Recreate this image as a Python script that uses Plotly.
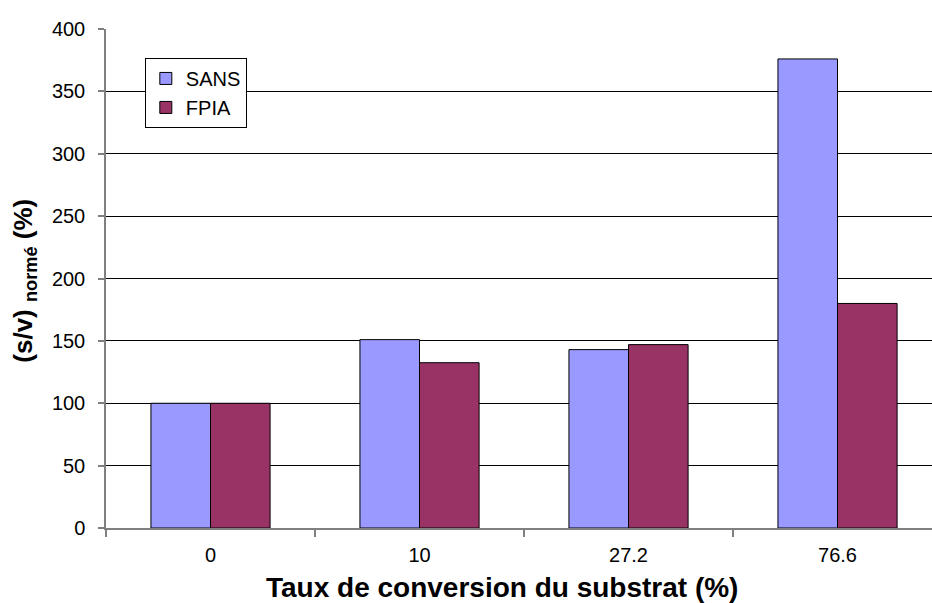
import plotly.graph_objects as go

categories = ["0", "10", "27.2", "76.6"]
sans = [100, 151, 143, 376]
fpia = [100, 132.5, 147, 180]
y_ticks = [0, 50, 100, 150, 200, 250, 300, 350, 400]

FONT = "Liberation Sans, Arial, sans-serif"

fig = go.Figure()
fig.add_trace(go.Bar(name="SANS", x=categories, y=sans,
                     marker=dict(color="#9999FF", line=dict(color="#000000", width=1))))
fig.add_trace(go.Bar(name="FPIA", x=categories, y=fpia,
                     marker=dict(color="#993366", line=dict(color="#000000", width=1))))

fig.update_layout(
    width=932, height=603,
    margin=dict(l=106, r=0, t=29, b=75),
    paper_bgcolor="white", plot_bgcolor="white",
    barmode="group", bargap=0.43, bargroupgap=0,
    font=dict(family=FONT, size=20, color="black"),
    showlegend=True,
    legend=dict(x=0.047, y=0.942, xanchor="left", yanchor="top",
                bgcolor="white", bordercolor="#000000", borderwidth=1,
                font=dict(size=20), tracegroupgap=0, itemwidth=30),
    annotations=[
        dict(text="<b>Taux de conversion du substrat (%)</b>", xref="paper", yref="paper",
             x=0.479, y=-0.119, xanchor="center", yanchor="middle", showarrow=False,
             font=dict(size=28)),
        dict(text="<b>(s/v) <sub>normé</sub> (%)</b>", xref="paper", yref="paper",
             x=-0.0984, y=0.495, xanchor="center", yanchor="middle", showarrow=False,
             textangle=-90, font=dict(size=26)),
    ],
)
fig.update_xaxes(
    type="category", range=[-0.5, 3.452],
    showline=True, linecolor="#808080", linewidth=1.5,
    ticks="outside", tickson="boundaries", ticklen=7, tickcolor="#808080", tickwidth=1.5,
    showgrid=False, ticklabelstandoff=8,
    tickfont=dict(size=20),
)
fig.update_yaxes(
    range=[0, 400], tickvals=y_ticks,
    showline=True, linecolor="#808080", linewidth=1.5,
    ticks="outside", ticklen=6, tickcolor="#808080", tickwidth=1.5,
    showgrid=True, gridcolor="#000000", gridwidth=1,
    zeroline=False, ticklabelstandoff=9,
    tickfont=dict(size=20),
)

fig.write_html("out.html",
               config={"displayModeBar": False},
               post_script="document.body.style.margin='0';document.body.style.overflow='hidden';")
